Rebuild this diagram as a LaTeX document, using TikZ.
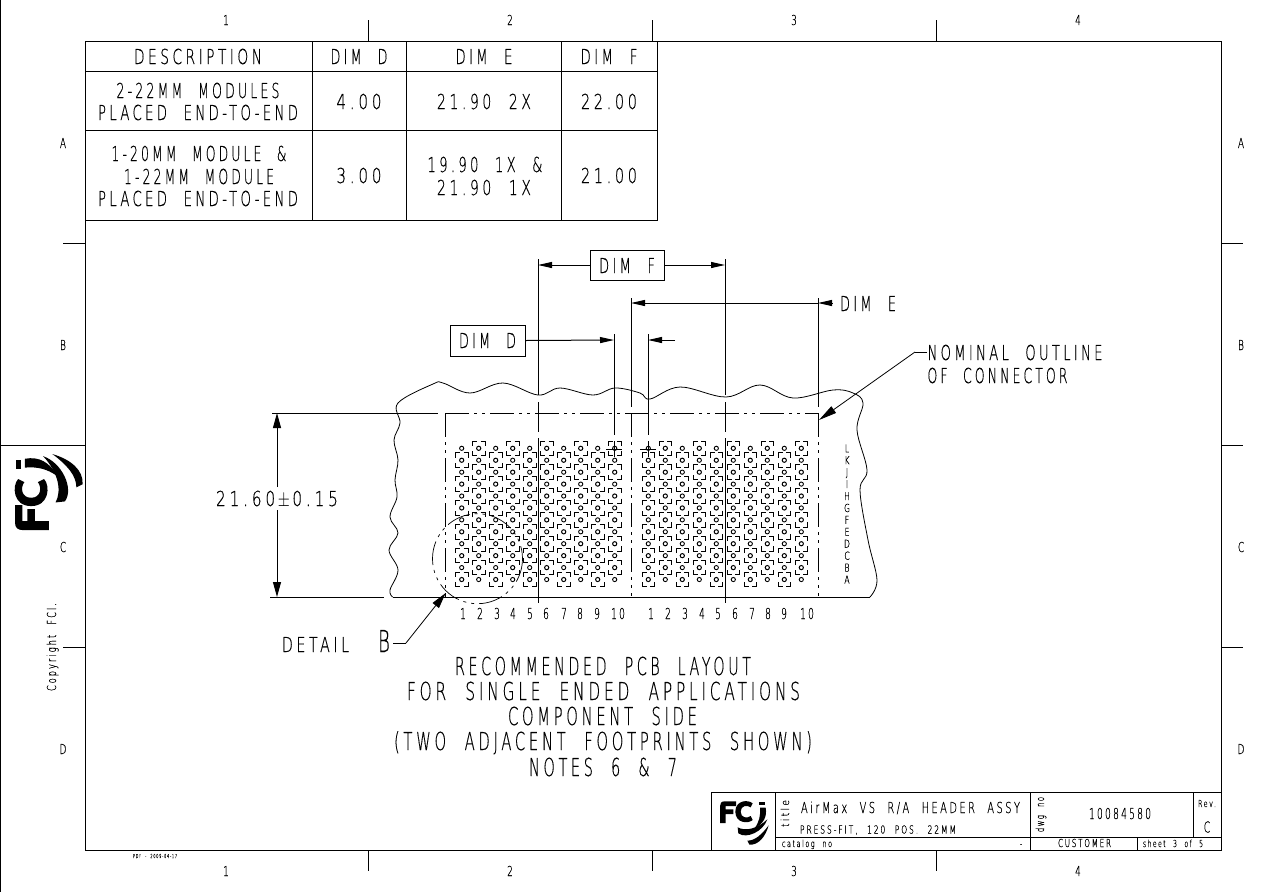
\documentclass[tikz,border=0pt]{standalone}
\usepackage{fontspec}
\usepackage{graphicx}
\usetikzlibrary{arrows.meta}
\newfontfamily\cad[LetterSpace=25,WordSpace=2.2,FakeBold=0.5]{DejaVu Sans ExtraLight}
\newsavebox\cadbox
% fit text to a width (px) with a given cap height (px)
\newcommand\cw[3]{\pgfmathsetmacro\cadfs{#2/0.729}\sbox\cadbox{\fontsize{\cadfs pt}{\cadfs pt}\cad #3}\pgfmathsetmacro\cadf{#1/\the\wd\cadbox}\scalebox{\cadf}[1]{\usebox\cadbox}}
% fixed horizontal scale
\newcommand\cs[3]{\pgfmathsetmacro\cadfs{#2/0.729}\scalebox{#1}[1]{\fontsize{\cadfs pt}{\cadfs pt}\cad #3}}
\newcommand\fcilogo{%
 \fill (30,93)--(47,93)--(47,66)--(70,66)--(70,52)--(47,52)--(47,42)--(78,42)--(78,28)--(44,28) .. controls (34,28) and (30,34) .. (30,42)--cycle;
 \fill (128,34) .. controls (115,22) and (76,24) .. (76,59) .. controls (76,94) and (115,96) .. (128,84) -- (122,72) .. controls (112,80) and (92,78) .. (92,59) .. controls (92,40) and (112,38) .. (122,46) -- cycle;
 \fill (148,30) rectangle (165,40);
 \fill (150,47)--(167,47) .. controls (172,75) and (160,95) .. (133,110) .. controls (148,90) and (152,70) .. (150,47)--cycle;
 \fill (83,106) .. controls (105,118) and (140,112) .. (172,82) .. controls (160,118) and (110,142) .. (85,124)--cycle;
 \fill (112,146) .. controls (135,146) and (155,128) .. (176,100) .. controls (166,135) and (145,160) .. (118,158)--cycle;
}
\newcommand\padsq[2]{%
 \draw (#1-6.3,#2-2.6) -- ++(0,-4.7) -- ++(4.5,0);
 \draw (#1+1.8,#2-7.3) -- ++(4.5,0) -- ++(0,4.7);
 \draw (#1+6.3,#2+2.6) -- ++(0,4.7) -- ++(-4.5,0);
 \draw (#1-1.8,#2+7.3) -- ++(-4.5,0) -- ++(0,-4.7);
 \draw (#1,#2) circle (2.1);
}
\begin{document}
\begin{tikzpicture}[x=1pt,y=-1pt,line width=1pt,
  lbl/.style={inner sep=0pt,anchor=base,text=black},
  dimbox/.style={draw,minimum width=74pt,minimum height=30pt,inner sep=0pt},
  phantom/.style={line width=.9pt,dash pattern=on 24pt off 5pt on 3pt off 5pt on 3pt off 5pt},
  thin1/.style={line width=.8pt},
  dart/.style={-{Stealth[length=14pt,width=6pt,inset=0pt]}},
  bigdart/.style={-{Stealth[length=16pt,width=8pt,inset=0pt]}}]
\useasboundingbox (0,0) rectangle (1261,892);
% sheet frame
\draw (85,41) rectangle (1221,850);
\draw (0.5,0) -- (0.5,892);
\foreach \x in {368,652,936}{\draw (\x,20)--(\x,41); \draw (\x,850)--(\x,871);}
\foreach \y in {243,647}{\draw (63,\y)--(85,\y);}
\draw (0,445)--(85,445);
\foreach \y in {243,445,647}{\draw (1221,\y)--(1243,\y);}
\foreach \t/\x in {1/226,2/510,3/794,4/1078}{
  \node[lbl] (zt\t) at (\x,25) {\cs{.65}{10}{\t}};
  \node[lbl] (zb\t) at (\x,876) {\cs{.65}{10}{\t}};}
\foreach \t/\y in {A/148,B/350,C/552,D/754}{
  \node[lbl] (zl\t) at (63,\y) {\cs{.65}{10}{\t}};
  \node[lbl] (zr\t) at (1241,\y) {\cs{.65}{10}{\t}};}
% table
\draw (85,41) rectangle (657,220);
\draw (85,71)--(657,71) (85,130)--(657,130);
\draw (312,41)--(312,220) (406,41)--(406,220) (561,41)--(561,220);
\node[lbl] (t1) at (198,64) {\cw{128}{15}{DESCRIPTION}};
\node[lbl] (t2) at (359,64) {\cw{57}{15}{DIM D}};
\node[lbl] (t3) at (484,64) {\cw{57}{15}{DIM E}};
\node[lbl] (t4) at (609,64) {\cw{57}{15}{DIM F}};
\node[lbl] (t5) at (198,98) {\cw{163}{15}{2-22MM MODULES}};
\node[lbl] (t6) at (198,120) {\cw{200}{15}{PLACED END-TO-END}};
\node[lbl] (t7) at (359,109) {\cw{45}{15}{4.00}};
\node[lbl] (t8) at (484,109) {\cw{94}{15}{21.90 2X}};
\node[lbl] (t9) at (609,109) {\cw{56}{15}{22.00}};
\node[lbl] (t10) at (199,161) {\cw{175}{15}{1-20MM MODULE \&}};
\node[lbl] (t11) at (199,184) {\cw{150}{15}{1-22MM MODULE}};
\node[lbl] (t12) at (198,206) {\cw{200}{15}{PLACED END-TO-END}};
\node[lbl] (t13) at (359,183) {\cw{45}{15}{3.00}};
\node[lbl] (t14) at (485,172) {\cw{115}{15}{19.90 1X \&}};
\node[lbl] (t15) at (484,195) {\cw{94}{15}{21.90 1X}};
\node[lbl] (t16) at (609,183) {\cw{56}{15}{21.00}};
% dimension boxes and labels
\node[dimbox] (dimF) at (627,265) {};
\node[lbl] (dimFt) at (627,273) {\cw{56}{15}{DIM F}};
\node[dimbox,minimum width=75pt,minimum height=31pt] (dimD) at (487.5,340.5) {};
\node[lbl] (dimDt) at (487.5,348) {\cw{57}{15}{DIM D}};
\node[lbl] (dimEt) at (868,311) {\cw{56}{15}{DIM E}};
% dimension coordinates
\coordinate (fL) at (538,265); \coordinate (fR) at (725,265);
\coordinate (eL) at (631,303); \coordinate (eR) at (818,303); \coordinate (eEnd) at (832,303);
\coordinate (dR) at (614,340); \coordinate (dL) at (648,340); \coordinate (dEnd) at (675,340);
\draw[dart] (dimF.west) -- (fL);
\draw[dart] (dimF.east) -- (fR);
\draw[dart] (eEnd) -- (eR);
\draw[dart] (eR) -- (eL);
\draw[dart] (dimD.east) -- (dR);
\draw[dart] (dEnd) -- (dL);
% extension lines
\foreach \x in {538,725}{
  \draw (\x,259)--(\x,395) (\x,402)--(\x,432) (\x,438)--(\x,603);}
\foreach \x in {631,818}{
  \draw (\x,298)--(\x,407);
  \draw[phantom] (\x,413)--(\x,596);}
\foreach \x in {614,648}{\draw (\x,334)--(\x,435);
  \draw (\x-8,449)--(\x+8,449) (\x,441)--(\x,457);}
% board outline
\draw[thin1] plot[smooth,tension=.6] coordinates {(392.6,597) (390,590) (398,570) (389,550) (398,533) (390,517) (397,497) (395,480) (398,460) (394,440) (400,423) (398,403) (433,384) (443,383) (470,393) (503,383) (538,395) (560,388) (593,395) (615,388) (640,393) (650,399) (680,387) (726,397) (760,385) (793,398) (833,390) (853,393) (863,403) (857,430) (867,470) (860,490) (868,540) (877,580) (870,597)};
\draw (392.6,597)--(870,597);
% connector outline and reference lines
\draw (272,413)--(438,413);
\draw[phantom] (445,413)--(818,413);
\draw[phantom] (445,413)--(445,597);
\draw (270,597)--(384,597);
% height dimension
\node[lbl,inner sep=2pt] (hdim) at (277,506) {\cw{122}{15}{21.60$\,\pm\,$0.15}};
\coordinate (hTop) at (277,413); \coordinate (hBot) at (277,597);
\draw[-{Stealth[length=15pt,width=8pt,inset=0pt]}] (277,487) -- (hTop);
\draw[-{Stealth[length=15pt,width=8pt,inset=0pt]}] (277,510) -- (hBot);
% pads
\foreach \gx in {461.7,648.3}{
 \foreach \c in {0,...,9}{
  \foreach \r in {0,...,11}{
   \pgfmathsetmacro\px{\gx+17*\c}
   \pgfmathsetmacro\py{448.3+11.93*\r}
   \ifodd\numexpr\c+\r\relax
     \padsq{\px}{\py}
   \else
     \draw[line width=.9pt] (\px,\py) circle (2.1);
   \fi
  }}}
% row labels
\foreach \t [count=\i from 0] in {L,K,J,I,H,G,F,E,D,C,B,A}{
  \pgfmathsetmacro\ly{452.3+11.93*\i}
  \node[lbl] (row\i) at (847,\ly) {\cs{.7}{8}{\t}};}
% column labels
\foreach \t/\x in {1/463,2/480,3/497,4/513,5/530,6/546,7/564,8/580,9/597,10/618}{
  \node[lbl] (ca\t) at (\x,619) {\cs{.6}{11}{\t}};}
\foreach \t/\x in {1/651,2/668,3/685,4/702,5/718,6/735,7/752,8/768,9/784,10/807}{
  \node[lbl] (cb\t) at (\x,619) {\cs{.6}{11}{\t}};}
% detail circle
\draw[phantom,line width=.7pt] (477.5,558.7) circle (45);
\node[lbl] (detail) at (315.5,652) {\cw{67}{15}{DETAIL}};
\node[lbl] (detailB) at (384,652) {\cs{.6}{22}{B}};
\coordinate (bE) at (406,643); \coordinate (bS) at (393,643); \coordinate (bTip) at (445.7,593);
\draw[thin1] (bS)--(bE);
\draw[thin1,bigdart] (bE)--(bTip);
% nominal outline
\node[lbl,anchor=base west] (nom1) at (927,360) {\cw{175}{15}{NOMINAL OUTLINE}};
\node[lbl,anchor=base west] (nom2) at (927,383) {\cw{140}{15}{OF CONNECTOR}};
\coordinate (nS) at (927,352); \coordinate (nE) at (915,352); \coordinate (nTip) at (819,420);
\draw[thin1] (nS)--(nE);
\draw[thin1,-{Stealth[length=18pt,width=8pt,inset=0pt]}] (nE)--(nTip);
% main notes
\node[lbl] (n1) at (603,675) {\cw{296}{18}{RECOMMENDED PCB LAYOUT}};
\node[lbl] (n2) at (603.5,700) {\cw{393}{18}{FOR SINGLE ENDED APPLICATIONS}};
\node[lbl] (n3) at (602.5,725) {\cw{189}{18}{COMPONENT SIDE}};
\node[lbl] (n4) at (603,750) {\cw{418}{18}{(TWO ADJACENT FOOTPRINTS SHOWN)}};
\node[lbl] (n5) at (603,776) {\cw{148}{18}{NOTES 6 \& 7}};
% title block
\draw (711,792.5)--(1221,792.5) (711,792.5)--(711,850);
\draw (775,792.5)--(775,850) (1030,792.5)--(1030,850) (1193,792.5)--(1193,837) (1137,837)--(1137,850);
\draw (775,837)--(1221,837);
\begin{scope}[shift={(710,792)},scale=1/3]\fcilogo\end{scope}
\begin{scope}[shift={(0.44,545.6)},rotate=90,scale=.52]\fcilogo\end{scope}
\node[lbl,rotate=90] (tb1) at (789,813.5) {\cw{27}{8}{title}};
\node[lbl] (tb2) at (910.5,813) {\cw{219}{11}{AirMax VS R/A HEADER ASSY}};
\node[lbl] (tb3) at (878,833.5) {\cw{156}{8}{PRESS-FIT, 120 POS. 22MM}};
\node[lbl] (tb4) at (807,847) {\cw{50}{7}{catalog no}};
\node[lbl] (tb5) at (1021,847) {\cs{.6}{7}{-}};
\node[lbl,rotate=90] (tb6) at (1044,814.5) {\cw{35}{8}{dwg no}};
\node[lbl] (tb7) at (1120,819) {\cw{62}{11}{10084580}};
\node[lbl] (tb8) at (1207,807) {\cw{18}{7}{Rev.}};
\node[lbl] (tb9) at (1207,832.5) {\cs{.6}{11}{C}};
\node[lbl] (tb10) at (1084.5,847) {\cw{53}{8}{CUSTOMER}};
\node[lbl] (tb11) at (1173,847) {\cw{60}{7}{sheet 3 of 5}};
\node[lbl] (foot) at (155,858) {\cw{44}{4}{PDF - 2009-04-17}};
\node[lbl,rotate=90] (copy) at (56,647) {\cw{88}{9}{Copyright FCI.}};
\end{tikzpicture}
\end{document}
